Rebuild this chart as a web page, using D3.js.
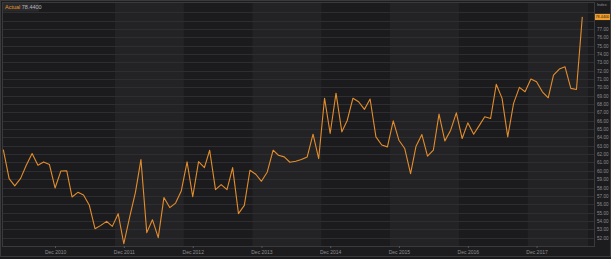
<!DOCTYPE html>
<html>
<head>
<meta charset="utf-8">
<script src="https://cdn.jsdelivr.net/npm/d3@7"></script>
<style>
  html, body { margin: 0; padding: 0; background: #1a1a1c; }
  svg { display: block; font-family: "Liberation Sans", Arial, sans-serif; }
</style>
</head>
<body>
<div id="chart"></div>
<script>
// Monthly values, Mar 2010 .. Aug 2018
var startMonth = "2010-03-01";
var values = [
  62.55, 59.07, 58.2, 59.1, 60.67, 62.07, 60.67, 61.07, 60.75, 57.95,
  59.99, 60.0, 56.87, 57.43, 57.1, 55.87, 53.07, 53.47, 53.95, 53.35,
  54.87, 51.27, 54.46, 57.46, 61.35, 52.6, 54.15, 52.0, 56.8, 55.6,
  56.14, 57.58, 61.07, 56.9, 61.1, 60.39, 62.47, 57.75, 58.35, 57.75,
  60.39, 54.87, 55.87, 60.07, 59.59, 58.75, 59.87, 62.47, 61.87, 61.67,
  61.03, 61.15, 61.35, 61.67, 64.39, 61.47, 68.7, 64.47, 69.3, 64.67,
  66.0, 68.7, 68.27, 67.36, 68.6, 64.07, 63.1, 62.87, 65.99, 63.67,
  62.67, 59.67, 62.95, 64.35, 61.75, 62.47, 66.79, 63.59, 64.87, 66.95,
  63.87, 65.75, 64.39, 65.47, 66.47, 66.27, 70.36, 68.68, 64.07, 68.08,
  70.0, 69.47, 70.99, 70.67, 69.47, 68.75, 71.47, 72.19, 72.47, 69.88,
  69.75, 78.44
];
var tickDates = ["2010-12-01", "2011-12-01", "2012-12-01", "2013-12-01",
                 "2014-12-01", "2015-12-01", "2016-12-01", "2017-12-01"];
var yTicks = d3.range(52, 80, 1);
var bandStarts = ["2011-10-15", "2013-10-15", "2015-10-15", "2017-10-15"];
var bandEnds   = ["2012-10-15", "2014-10-15", "2016-10-15", "2018-09-01"];
var seriesName = "Actual";
var lastLabel = "78.4400";
var axisTitle = "Index";

var W = 611, H = 259;
var plot = { l: 3, r: 594, t: 3, b: 246 };
var parse = d3.utcParse("%Y-%m-%d");

var start = parse(startMonth);
var data = values.map(function (v, i) {
  return { date: d3.utcMonth.offset(start, i), value: v };
});

var x = d3.scaleUtc()
  .domain([data[0].date, data[data.length - 1].date])
  .range([3.3, 582.3]);
var y = d3.scaleLinear().domain([51, 80.1]).range([plot.b, plot.t]);

var svg = d3.select("#chart").append("svg").attr("width", W).attr("height", H);

// outer frame
svg.append("rect").attr("x", 0.5).attr("y", 0.5).attr("width", W - 1).attr("height", 256)
  .attr("fill", "#1c1c1e").attr("stroke", "#3a3a3d");

// plot background
svg.append("rect").attr("x", plot.l).attr("y", plot.t)
  .attr("width", plot.r - plot.l).attr("height", plot.b - plot.t)
  .attr("fill", "#1b1b1e");

// alternating year bands
svg.selectAll(".band").data(bandStarts).enter().append("rect")
  .attr("class", "band")
  .attr("x", function (d) { return x(parse(d)); })
  .attr("y", plot.t)
  .attr("width", function (d, i) {
    return Math.min(x(parse(bandEnds[i])), plot.r) - x(parse(d));
  })
  .attr("height", plot.b - plot.t)
  .attr("fill", "#232326");

// horizontal grid
svg.selectAll(".grid").data(yTicks).enter().append("line")
  .attr("class", "grid")
  .attr("x1", plot.l).attr("x2", plot.r)
  .attr("y1", function (d) { return Math.round(y(d)) + 0.5; })
  .attr("y2", function (d) { return Math.round(y(d)) + 0.5; })
  .attr("stroke", "#2e2e32").attr("stroke-width", 1);

// plot border
svg.append("rect").attr("x", plot.l - 0.5).attr("y", plot.t - 0.5)
  .attr("width", plot.r - plot.l + 1).attr("height", plot.b - plot.t + 1)
  .attr("fill", "none").attr("stroke", "#3a3a3d");

// x axis
var xAxis = svg.append("g").attr("transform", "translate(0," + plot.b + ")")
  .call(d3.axisBottom(x)
    .tickValues(tickDates.map(parse))
    .tickSize(2)
    .tickFormat(d3.utcFormat("Dec %Y")));
xAxis.select(".domain").remove();
xAxis.selectAll(".tick line").attr("stroke", "#55555a");
xAxis.selectAll(".tick text").attr("fill", "#8c8c90").attr("font-size", 5).attr("dy", "0.55em");

// y axis (right); the label hidden behind the last-value box is skipped
var last = data[data.length - 1];
var shownTicks = yTicks.filter(function (d) { return Math.abs(y(d) - y(last.value)) > 5; });
var yAxis = svg.append("g").attr("transform", "translate(" + plot.r + ",0)")
  .call(d3.axisRight(y).tickValues(shownTicks).tickSize(0).tickPadding(3)
    .tickFormat(d3.format(".2f")));
yAxis.select(".domain").remove();
yAxis.selectAll(".tick text").attr("fill", "#8c8c90").attr("font-size", 4.6);

svg.append("text").attr("x", plot.r + 3).attr("y", 6.2)
  .attr("fill", "#8c8c90").attr("font-size", 4)
  .text(axisTitle);

// series line
var line = d3.line()
  .x(function (d) { return x(d.date); })
  .y(function (d) { return y(d.value); });

svg.append("path").datum(data)
  .attr("d", line)
  .attr("fill", "none")
  .attr("stroke", "#e38d2c")
  .attr("stroke-width", 1.1)
  .attr("stroke-linejoin", "round");

// last value marker on axis
svg.append("rect").attr("x", plot.r + 1).attr("y", y(last.value) - 3)
  .attr("width", W - plot.r - 2).attr("height", 6.2)
  .attr("fill", "#f0a033");
svg.append("text").attr("x", plot.r + 1.5).attr("y", y(last.value) + 1.5)
  .attr("fill", "#2a1a05").attr("font-size", 3.8)
  .text(lastLabel);

// legend
svg.append("rect").attr("x", plot.l).attr("y", plot.t).attr("width", 36).attr("height", 8.5)
  .attr("fill", "#2a2a2d");
var leg = svg.append("text").attr("x", plot.l + 2).attr("y", plot.t + 6).attr("font-size", 5.5);
leg.append("tspan").attr("fill", "#e8922c").text(seriesName);
leg.append("tspan").attr("fill", "#b8b8bc").attr("dx", 1.5).text(lastLabel);
</script>
</body>
</html>
